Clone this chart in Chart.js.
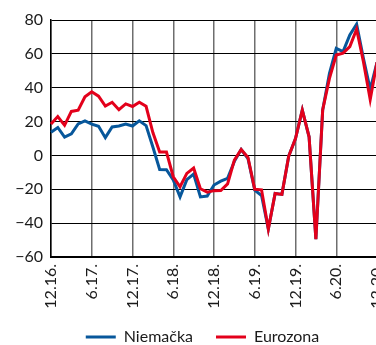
<!DOCTYPE html>
<html>
<head>
<meta charset="utf-8">
<script src="https://cdn.jsdelivr.net/npm/chart.js@4/dist/chart.umd.min.js"></script>
<style>
    html, body { margin: 0; padding: 0; background: #fff; overflow: hidden; }
    #wrap { width: 405px; height: 345px; }
</style>
</head>
<body>
<div id="wrap"><canvas id="mainChart" width="405" height="345"></canvas></div>
<script>
// Months, Dec 2016 - Dec 2020
const months = [
    '12.16.', '1.17.', '2.17.', '3.17.', '4.17.', '5.17.', '6.17.', '7.17.', '8.17.', '9.17.', '10.17.', '11.17.',
    '12.17.', '1.18.', '2.18.', '3.18.', '4.18.', '5.18.', '6.18.', '7.18.', '8.18.', '9.18.', '10.18.', '11.18.',
    '12.18.', '1.19.', '2.19.', '3.19.', '4.19.', '5.19.', '6.19.', '7.19.', '8.19.', '9.19.', '10.19.', '11.19.',
    '12.19.', '1.20.', '2.20.', '3.20.', '4.20.', '5.20.', '6.20.', '7.20.', '8.20.', '9.20.', '10.20.', '11.20.',
    '12.20.'
];

const germany = [
    13.7, 16.5, 10.8, 12.8, 18.6, 20.4, 18.5, 17.2, 10.5, 16.8, 17.4, 18.6,
    17.4, 20.4, 17.6, 5, -8.3, -8.4, -14.5, -24.5, -14.3, -11, -24.5, -24,
    -17.5, -15.2, -13.5, -3.5, 3.5, -1.8, -20.5, -23.7, -43.5, -22.5, -23, -0.5,
    10, 26.8, 11, -49.5, 26.8, 48.5, 63.2, 61.3, 71.2, 77.5, 57.4, 39,
    55
];

const eurozone = [
    18.5, 23, 17.8, 26, 26.7, 34.6, 37.6, 35, 29.2, 31.4, 27, 30.4,
    28.9, 31.4, 29, 13.5, 2, 2, -12.6, -18.5, -10.6, -7.4, -19.7, -21.7,
    -20.8, -20.7, -16.8, -2.8, 3.5, -1.2, -20, -20.3, -43.5, -22.5, -23, -0.5,
    10, 26.8, 11, -49.5, 26.8, 45.5, 59.3, 60.4, 64.3, 74.6, 55.4, 33,
    55
];

const seriesNames = ['Niemačka', 'Eurozona'];
const yTicks = [-60, -40, -20, 0, 20, 40, 60, 80];

const colors = {
    blue: '#07579b',
    red: '#e3001b',
    text: '#1a1a1a'
};

const FONT = 'Lato, "Open Sans", sans-serif';

// Simple line legend under the plot
const lineLegend = {
    id: 'lineLegend',
    afterDraw(chart) {
        const ctx = chart.ctx;
        const sets = chart.data.datasets;
        const lineW = 30, gap = 8, itemGap = 23;
        ctx.save();
        ctx.font = '16px ' + FONT;
        let total = 0;
        const widths = sets.map(ds => ctx.measureText(ds.label).width);
        widths.forEach((w, i) => { total += lineW + gap + w + (i < widths.length - 1 ? itemGap : 0); });
        let x = chart.width / 2 - total / 2;
        const y = 337;
        sets.forEach((ds, i) => {
            ctx.strokeStyle = ds.borderColor;
            ctx.lineWidth = 3;
            ctx.beginPath();
            ctx.moveTo(x, y);
            ctx.lineTo(x + lineW, y);
            ctx.stroke();
            x += lineW + gap;
            ctx.fillStyle = colors.text;
            ctx.textBaseline = 'middle';
            ctx.textAlign = 'left';
            ctx.fillText(ds.label, x, y);
            x += widths[i] + itemGap;
        });
        ctx.restore();
    }
};

function initChart() {
    const ctx = document.getElementById('mainChart');

    new Chart(ctx, {
        type: 'line',
        data: {
            labels: months,
            datasets: [{
                label: seriesNames[0],
                data: germany,
                borderColor: colors.blue,
                backgroundColor: colors.blue,
                borderWidth: 3,
                pointRadius: 0,
                tension: 0,
                order: 2
            }, {
                label: seriesNames[1],
                data: eurozone,
                borderColor: colors.red,
                backgroundColor: colors.red,
                borderWidth: 3,
                pointRadius: 0,
                tension: 0,
                order: 1
            }]
        },
        options: {
            responsive: false,
            animation: false,
            devicePixelRatio: 1,
            layout: {
                padding: { top: 20, right: 28, bottom: 0, left: 0 }
            },
            scales: {
                x: {
                    offset: false,
                    afterFit: function(scale) { scale.height = 88; },
                    grid: {
                        drawTicks: false,
                        color: function(c) {
                            return c.index % 6 === 0 ? '#6e6e6e' : 'rgba(0,0,0,0)';
                        },
                        lineWidth: 1.5
                    },
                    border: { color: '#000', width: 2 },
                    ticks: {
                        autoSkip: false,
                        minRotation: 90,
                        maxRotation: 90,
                        padding: 7,
                        color: colors.text,
                        font: { size: 16, family: FONT },
                        callback: function(value, index) {
                            return index % 6 === 0 ? this.getLabelForValue(value) : '';
                        }
                    }
                },
                y: {
                    min: yTicks[0],
                    max: yTicks[yTicks.length - 1],
                    afterFit: function(scale) { scale.width = 51; },
                    afterBuildTicks: function(scale) {
                        scale.ticks = yTicks.map(v => ({ value: v }));
                    },
                    grid: {
                        drawTicks: false,
                        color: '#000',
                        lineWidth: 1
                    },
                    border: { color: '#000', width: 1.5 },
                    ticks: {
                        padding: 8,
                        color: colors.text,
                        font: { size: 16, family: FONT },
                        callback: function(value) {
                            return String(value).replace('-', '\u2212');
                        }
                    }
                }
            },
            plugins: {
                legend: { display: false },
                tooltip: { enabled: false }
            }
        },
        plugins: [lineLegend]
    });
}

document.addEventListener('DOMContentLoaded', initChart);
</script>
</body>
</html>
